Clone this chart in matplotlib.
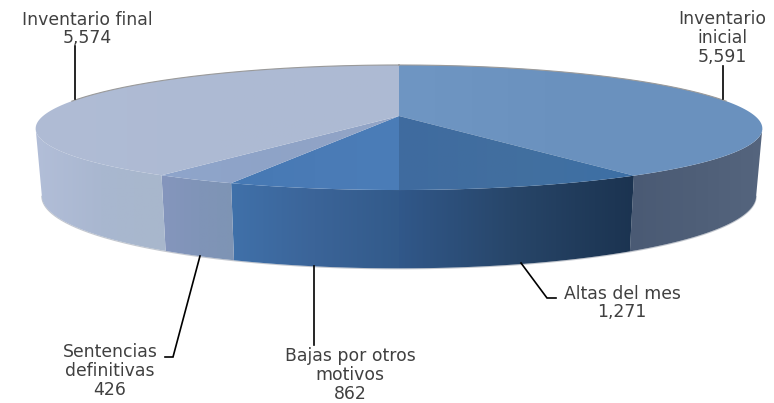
import numpy as np
import matplotlib
matplotlib.use("Agg")
import matplotlib.pyplot as plt
from matplotlib.colors import LinearSegmentedColormap
from matplotlib.patches import Polygon

categories = ["Inventario\ninicial", "Altas del mes", "Bajas por otros\nmotivos",
              "Sentencias\ndefinitivas", "Inventario final"]
values = [5591, 1271, 862, 426, 5574]

top_colors = [["#6f96c3", "#6a91be", "#6b92bf"],
              ["#3f6b9f", "#426f9f", "#3d70a6"],
              ["#4679b4", "#4a7bb6", "#4b7db8"],
              ["#8ea5cb", "#8fa3c7", "#93a5c6"],
              ["#b0bcd5", "#adbad3", "#aebbd3"]]
wall_colors = [["#4a5a74", "#4f5f78", "#55657e"],
               ["#31588a", "#274568", "#1b3350"],
               ["#4071aa", "#3b6498", "#325a8a"],
               ["#8596bd", "#8094b8", "#7e94b4"],
               ["#b2bed8", "#a9b7d0", "#a8b7cc"]]
label_pos = [(722, 38), (622, 303), (350, 375), (110, 371), (87, 29)]
leaders = [[(723, 66), (723, 99)],
           [(521, 263), (547, 298), (556, 298)],
           [(314, 266), (314, 345)],
           [(200, 256), (173, 357), (165, 357)],
           [(75, 46), (75, 99)]]

CX, CY = 399.0, 116.0
A, B = 356.0, 60.4
PX, PY = 0.2, 0.184
TIP = 180 - np.degrees(np.arccos(PX))  # angle where the rim is widest


def top_xy(t):
    t = np.radians(t)
    u, v = np.sin(t), -np.cos(t)
    return CX + A * u / (1 - PX * v), CY + B * v / (1 - PY * v)


def bottom_xy(t):
    x, y = top_xy(t)
    return CX + 0.983 * (x - CX), CY + 65 + 1.18 * (y - CY)


fig = plt.figure(figsize=(7.74, 4.03), dpi=100, facecolor="white")
ax = fig.add_axes([0, 0, 1, 1])
ax.set_xlim(0, 774)
ax.set_ylim(403, 0)
ax.axis("off")


def gradient_fill(points, colors, zorder):
    pts = np.asarray(points)
    x0, x1 = pts[:, 0].min() - 1, pts[:, 0].max() + 1
    y0, y1 = pts[:, 1].min() - 1, pts[:, 1].max() + 1
    cmap = LinearSegmentedColormap.from_list("g", colors)
    img = ax.imshow(np.linspace(0, 1, 256)[None, :], cmap=cmap, extent=(x0, x1, y1, y0),
                    aspect="auto", zorder=zorder, interpolation="bilinear")
    patch = Polygon(pts, closed=True, transform=ax.transData, fc="none", ec="none")
    ax.add_patch(patch)
    img.set_clip_path(patch)


angles = np.concatenate([[0], np.cumsum(values) / np.sum(values) * 360])
for i in range(len(values)):
    ts = np.linspace(angles[i], angles[i + 1], 160)
    tx, ty = top_xy(ts)
    # outer wall: only the part that faces the viewer
    wt = np.linspace(max(angles[i], TIP), min(angles[i + 1], 360 - TIP), 160)
    wx, wy = top_xy(wt)
    bx, by = bottom_xy(wt)
    wall = np.vstack([np.column_stack([wx, wy]), np.column_stack([bx, by])[::-1]])
    gradient_fill(wall, wall_colors[i], 2)
    top = np.vstack([[CX, CY], np.column_stack([tx, ty])])
    gradient_fill(top, top_colors[i], 3)

ts = np.linspace(0, 360, 720)
tx, ty = top_xy(ts)
back = np.cos(np.radians(ts)) > 0.25
ax.plot(np.where(back, tx, np.nan), np.where(back, ty, np.nan), color="#9a9a9a", lw=0.8, zorder=4)
bx, by = bottom_xy(np.linspace(TIP, 360 - TIP, 400))
ax.plot(bx, by + 0.5, color="#c4c8cf", lw=0.8, zorder=1)

for path in leaders:
    p = np.array(path)
    ax.plot(p[:, 0], p[:, 1], color="black", lw=1.2, zorder=5, solid_joinstyle="miter")

for cat, val, (x, y) in zip(categories, values, label_pos):
    ax.text(x, y, f"{cat}\n{val:,}", ha="center", va="center", fontsize=12.4,
            family="DejaVu Sans", color="#404040", linespacing=1.07, zorder=6)

ax.set_xlim(0, 774)
ax.set_ylim(403, 0)
fig.savefig("out.png", dpi=100)
